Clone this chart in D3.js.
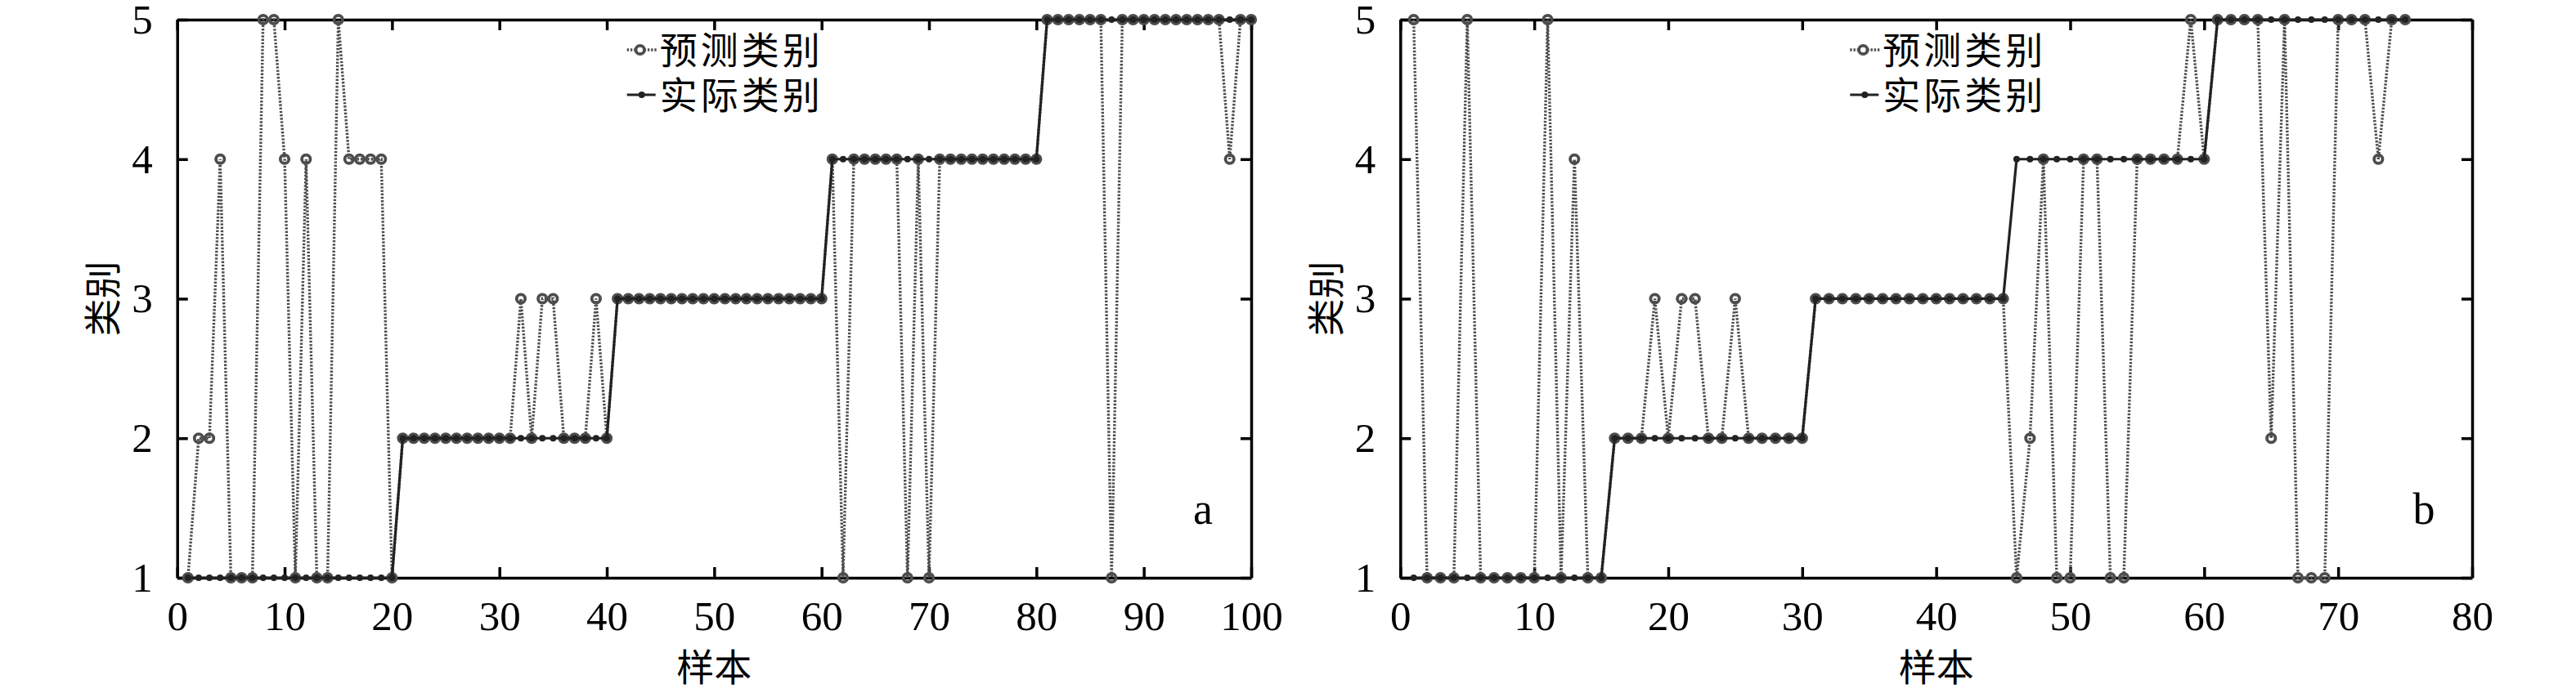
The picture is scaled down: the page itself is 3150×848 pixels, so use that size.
<!DOCTYPE html>
<html>
<head>
<meta charset="utf-8">
<script src="https://cdn.jsdelivr.net/npm/d3@7"></script>
<style>
  html, body { margin: 0; padding: 0; background: #fff; }
  svg { display: block; }
</style>
</head>
<body>
<svg id="chart" width="3150" height="848"></svg>
<script>
// ---------------- DATA ----------------
const panelLabels = ["a", "b"];
const legendLabels = ["预测类别", "实际类别"];
const xAxisTitle = "样本";
const yAxisTitle = "类别";
const yTicks = [1, 2, 3, 4, 5];

// Panel a: 100 samples
const aXTicks = [0, 10, 20, 30, 40, 50, 60, 70, 80, 90, 100];
const aActual = [
  1,1,1,1,1,1,1,1,1,1, 1,1,1,1,1,1,1,1,1,1,
  2,2,2,2,2,2,2,2,2,2, 2,2,2,2,2,2,2,2,2,2,
  3,3,3,3,3,3,3,3,3,3, 3,3,3,3,3,3,3,3,3,3,
  4,4,4,4,4,4,4,4,4,4, 4,4,4,4,4,4,4,4,4,4,
  5,5,5,5,5,5,5,5,5,5, 5,5,5,5,5,5,5,5,5,5
];
const aPredicted = [
  1,2,2,4,1,1,1,5,5,4, 1,4,1,1,5,4,4,4,4,1,
  2,2,2,2,2,2,2,2,2,2, 2,3,2,3,3,2,2,2,3,2,
  3,3,3,3,3,3,3,3,3,3, 3,3,3,3,3,3,3,3,3,3,
  4,1,4,4,4,4,4,1,4,1, 4,4,4,4,4,4,4,4,4,4,
  5,5,5,5,5,5,1,5,5,5, 5,5,5,5,5,5,5,4,5,5
];

// Panel b: 75 samples
const bXTicks = [0, 10, 20, 30, 40, 50, 60, 70, 80];
const bActual = [
  1,1,1,1,1,1,1,1,1,1, 1,1,1,1,1,
  2,2,2,2,2,2,2,2,2,2, 2,2,2,2,2,
  3,3,3,3,3,3,3,3,3,3, 3,3,3,3,3,
  4,4,4,4,4,4,4,4,4,4, 4,4,4,4,4,
  5,5,5,5,5,5,5,5,5,5, 5,5,5,5,5
];
const bPredicted = [
  5,1,1,1,5,1,1,1,1,1, 5,1,4,1,1,
  2,2,2,3,2,3,3,2,2,3, 2,2,2,2,2,
  3,3,3,3,3,3,3,3,3,3, 3,3,3,3,3,
  1,2,4,1,1,4,4,1,1,4, 4,4,4,5,4,
  5,5,5,5,2,5,1,1,1,5, 5,5,4,5,5
];

// ---------------- DRAW ----------------
const svg = d3.select("#chart");
const SERIF = "'Liberation Serif','Times New Roman',serif";
const CJK = "'Noto Sans CJK SC','Noto Sans CJK JP',sans-serif";
const predColor = "#4d4d4d";
const actColor = "#222";

const panels = [
  { label: panelLabels[0], xMax: 100, xTicks: aXTicks, actual: aActual, predicted: aPredicted, left: 216.7, right: 1530 },
  { label: panelLabels[1], xMax: 80,  xTicks: bXTicks, actual: bActual, predicted: bPredicted, left: 1712.3, right: 3023 }
];
const plotTop = 24, plotBottom = 707;

panels.forEach(p => {
  const x = d3.scaleLinear().domain([0, p.xMax]).range([p.left, p.right]);
  const y = d3.scaleLinear().domain([1, 5]).range([plotBottom, plotTop]);
  const g = svg.append("g");

  const styleAxis = sel => {
    sel.selectAll("path.domain").attr("stroke", "#000").attr("stroke-width", 3.5);
    sel.selectAll(".tick line").attr("stroke", "#000").attr("stroke-width", 3.5);
  };

  // bottom axis
  g.append("g").attr("transform", `translate(0,${plotBottom})`)
    .call(d3.axisBottom(x).tickValues(p.xTicks).tickSizeInner(-13).tickSizeOuter(0).tickPadding(28).tickFormat(d3.format("d")))
    .call(styleAxis)
    .call(s => s.selectAll("text").attr("font-family", SERIF).attr("font-size", 51).attr("fill", "#000"));
  // top axis
  g.append("g").attr("transform", `translate(0,${plotTop})`)
    .call(d3.axisTop(x).tickValues(p.xTicks).tickSizeInner(-13).tickSizeOuter(0).tickFormat(""))
    .call(styleAxis);
  // left axis
  g.append("g").attr("transform", `translate(${p.left},0)`)
    .call(d3.axisLeft(y).tickValues(yTicks).tickSizeInner(-13).tickSizeOuter(0).tickPadding(30).tickFormat(d3.format("d")))
    .call(styleAxis)
    .call(s => s.selectAll("text").attr("font-family", SERIF).attr("font-size", 51).attr("fill", "#000"));
  // right axis
  g.append("g").attr("transform", `translate(${p.right},0)`)
    .call(d3.axisRight(y).tickValues(yTicks).tickSizeInner(-13).tickSizeOuter(0).tickFormat(""))
    .call(styleAxis);

  const idx = d3.range(1, p.actual.length + 1);
  const line = d3.line().x(d => x(d[0])).y(d => y(d[1]));

  // predicted
  g.append("path")
    .datum(idx.map((i, k) => [i, p.predicted[k]]))
    .attr("d", line).attr("fill", "none")
    .attr("stroke", predColor).attr("stroke-width", 3.4)
    .attr("stroke-dasharray", "2.4,1.8");
  g.append("g").selectAll("circle")
    .data(idx.map((i, k) => [i, p.predicted[k]]))
    .join("circle")
    .attr("cx", d => x(d[0])).attr("cy", d => y(d[1]))
    .attr("r", 5.2).attr("fill", "none")
    .attr("stroke", predColor).attr("stroke-width", 3.8);

  // actual
  g.append("path")
    .datum(idx.map((i, k) => [i, p.actual[k]]))
    .attr("d", line).attr("fill", "none")
    .attr("stroke", actColor).attr("stroke-width", 3.2);
  g.append("g").selectAll("circle")
    .data(idx.map((i, k) => [i, p.actual[k]]))
    .join("circle")
    .attr("cx", d => x(d[0])).attr("cy", d => y(d[1]))
    .attr("r", 4).attr("fill", actColor);

  // panel letter
  g.append("text")
    .attr("x", p.right - 59).attr("y", 641)
    .attr("text-anchor", "middle")
    .attr("font-family", SERIF).attr("font-size", 54)
    .text(p.label);

  // axis titles
  g.append("text")
    .attr("x", (p.left + p.right) / 2).attr("y", 833)
    .attr("text-anchor", "middle")
    .attr("font-family", CJK).attr("font-size", 46)
    .text(xAxisTitle);
  g.append("text")
    .attr("transform", `translate(${p.left - 91},${(plotTop + plotBottom) / 2}) rotate(-90)`)
    .attr("text-anchor", "middle").attr("dy", "0.36em")
    .attr("font-family", CJK).attr("font-size", 46)
    .text(yAxisTitle);

  // legend
  const lx = p.left + 550;
  const rows = [61, 116];
  const leg = g.append("g");
  // predicted row
  leg.append("line").attr("x1", lx).attr("x2", lx + 36).attr("y1", rows[0]).attr("y2", rows[0])
    .attr("stroke", predColor).attr("stroke-width", 3.4).attr("stroke-dasharray", "2.4,1.8");
  leg.append("circle").attr("cx", lx + 16).attr("cy", rows[0]).attr("r", 5.2)
    .attr("fill", "#fff").attr("stroke", predColor).attr("stroke-width", 3.8);
  // actual row
  leg.append("line").attr("x1", lx).attr("x2", lx + 35).attr("y1", rows[1]).attr("y2", rows[1])
    .attr("stroke", actColor).attr("stroke-width", 3.2);
  leg.append("circle").attr("cx", lx + 18).attr("cy", rows[1]).attr("r", 4).attr("fill", actColor);
  legendLabels.forEach((t, k) => {
    leg.append("text")
      .attr("x", lx + 40).attr("y", rows[k]).attr("dy", "0.36em")
      .attr("font-family", CJK).attr("font-size", 46)
      .attr("letter-spacing", 4)
      .text(t);
  });
});
</script>
</body>
</html>
